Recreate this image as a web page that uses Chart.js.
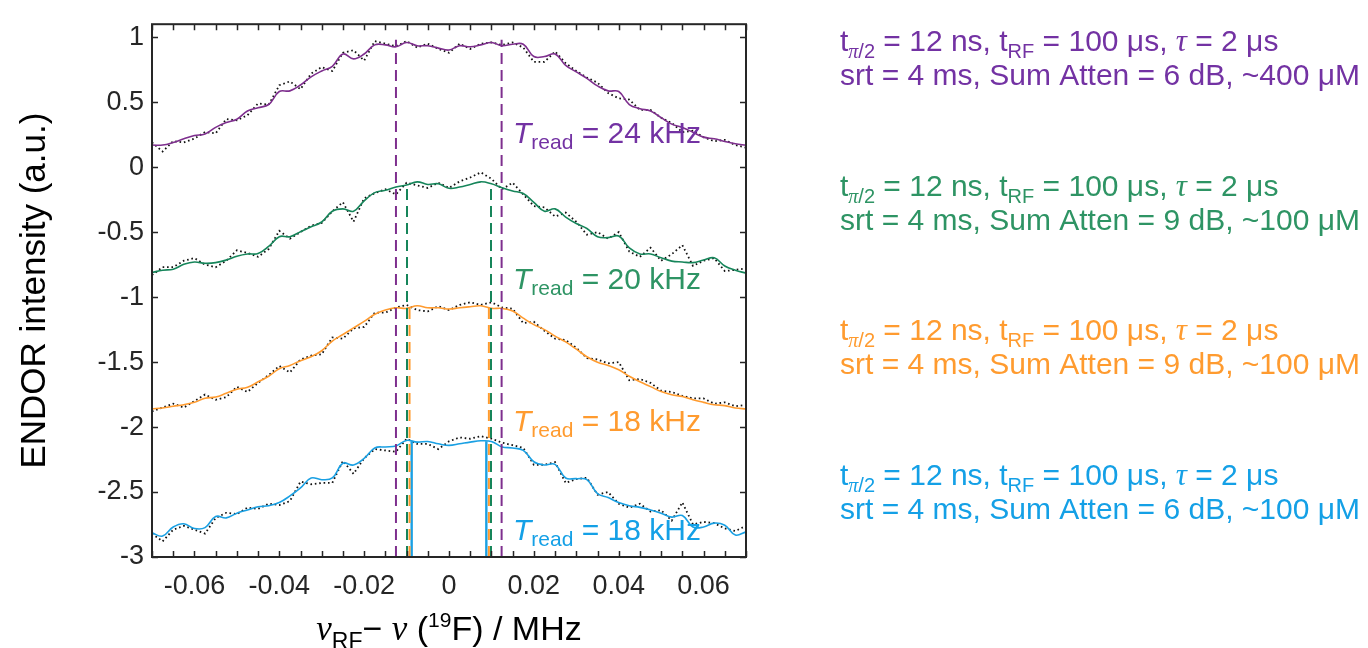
<!DOCTYPE html>
<html>
<head>
<meta charset="utf-8">
<script src="https://cdn.jsdelivr.net/npm/chart.js@4.4.1/dist/chart.umd.min.js"></script>
<style>
  html, body { margin: 0; padding: 0; background: #fff; }
  #wrap { position: relative; width: 1368px; height: 648px; }
</style>
</head>
<body>
<div id="wrap"><canvas id="endor-chart" width="1368" height="648"></canvas></div>
<script>
// x grid: nu_RF - nu(19F) in MHz
const freqOffset = [
  -0.07, -0.0675, -0.065, -0.0625, -0.06, -0.0575, -0.055, -0.0525, -0.05, -0.0475,
  -0.045, -0.0425, -0.04, -0.0375, -0.035, -0.0325, -0.03, -0.0275, -0.025, -0.0225,
  -0.02, -0.0175, -0.015, -0.0125, -0.01, -0.0075, -0.005, -0.0025, 0, 0.0025,
  0.005, 0.0075, 0.01, 0.0125, 0.015, 0.0175, 0.02, 0.0225, 0.025, 0.0275,
  0.03, 0.0325, 0.035, 0.0375, 0.04, 0.0425, 0.045, 0.0475, 0.05, 0.0525,
  0.055, 0.0575, 0.06, 0.0625, 0.065, 0.0675, 0.07
];

// smoothed traces (coloured lines)
const fitPurple = [
  0.17, 0.17, 0.19, 0.218, 0.243, 0.256, 0.306, 0.343, 0.369, 0.432,
  0.457, 0.482, 0.582, 0.587, 0.632, 0.695, 0.74, 0.776, 0.871, 0.833,
  0.871, 0.941, 0.941, 0.926, 0.959, 0.934, 0.934, 0.916, 0.901, 0.934,
  0.926, 0.941, 0.959, 0.934, 0.946, 0.946, 0.851, 0.851, 0.871, 0.783,
  0.733, 0.683, 0.625, 0.587, 0.582, 0.482, 0.45, 0.432, 0.381, 0.331,
  0.306, 0.268, 0.231, 0.218, 0.198, 0.18, 0.168
];
const fitGreen = [
  -0.811, -0.793, -0.786, -0.748, -0.73, -0.74, -0.735, -0.715, -0.685, -0.668,
  -0.665, -0.61, -0.535, -0.535, -0.497, -0.459, -0.422, -0.339, -0.321, -0.339,
  -0.259, -0.196, -0.178, -0.153, -0.138, -0.113, -0.133, -0.128, -0.163, -0.153,
  -0.133, -0.113, -0.128, -0.158, -0.183, -0.203, -0.271, -0.339, -0.321, -0.384,
  -0.434, -0.472, -0.535, -0.542, -0.53, -0.622, -0.668, -0.668, -0.698, -0.723,
  -0.73, -0.735, -0.715, -0.698, -0.761, -0.793, -0.816
];
const fitOrange = [
  -1.86, -1.853, -1.84, -1.828, -1.81, -1.778, -1.769, -1.74, -1.709, -1.694,
  -1.652, -1.609, -1.551, -1.526, -1.489, -1.459, -1.413, -1.338, -1.288, -1.237,
  -1.187, -1.132, -1.099, -1.082, -1.087, -1.067, -1.082, -1.082, -1.092, -1.082,
  -1.074, -1.067, -1.087, -1.087, -1.107, -1.162, -1.212, -1.25, -1.3, -1.345,
  -1.401, -1.459, -1.501, -1.526, -1.559, -1.609, -1.652, -1.689, -1.727, -1.752,
  -1.765, -1.79, -1.81, -1.828, -1.835, -1.853, -1.86
];
const fitBlue = [
  -2.814, -2.839, -2.769, -2.744, -2.781, -2.774, -2.688, -2.699, -2.663, -2.638,
  -2.613, -2.606, -2.581, -2.53, -2.468, -2.392, -2.405, -2.392, -2.279, -2.292,
  -2.242, -2.161, -2.153, -2.146, -2.103, -2.116, -2.111, -2.129, -2.141, -2.129,
  -2.116, -2.106, -2.111, -2.153, -2.161, -2.179, -2.267, -2.292, -2.287, -2.392,
  -2.397, -2.405, -2.513, -2.543, -2.581, -2.606, -2.618, -2.638, -2.663, -2.693,
  -2.681, -2.769, -2.769, -2.739, -2.756, -2.831, -2.806
];

// raw traces (black dotted)
const rawPurple = [
  0.19, 0.12, 0.20, 0.19, 0.22, 0.27, 0.26, 0.37, 0.36, 0.40,
  0.49, 0.48, 0.63, 0.66, 0.60, 0.72, 0.77, 0.74, 0.88, 0.90,
  0.82, 0.97, 0.95, 0.93, 0.97, 0.92, 0.95, 0.91, 0.88, 0.95,
  0.91, 0.95, 0.96, 0.94, 0.96, 0.92, 0.81, 0.81, 0.89, 0.80,
  0.74, 0.69, 0.65, 0.57, 0.53, 0.52, 0.44, 0.44, 0.38, 0.34,
  0.27, 0.28, 0.23, 0.20, 0.21, 0.17, 0.15
];
const rawGreen = [
  -0.83, -0.77, -0.77, -0.72, -0.70, -0.75, -0.77, -0.72, -0.64, -0.66,
  -0.69, -0.63, -0.49, -0.55, -0.50, -0.45, -0.43, -0.34, -0.27, -0.42,
  -0.24, -0.20, -0.17, -0.21, -0.12, -0.14, -0.16, -0.12, -0.16, -0.11,
  -0.08, -0.04, -0.09, -0.17, -0.12, -0.21, -0.30, -0.31, -0.38, -0.35,
  -0.42, -0.52, -0.50, -0.55, -0.50, -0.65, -0.69, -0.62, -0.72, -0.67,
  -0.60, -0.76, -0.72, -0.70, -0.80, -0.79, -0.78
];
const rawOrange = [
  -1.88, -1.85, -1.82, -1.85, -1.80, -1.75, -1.79, -1.77, -1.69, -1.73,
  -1.66, -1.60, -1.53, -1.58, -1.48, -1.45, -1.44, -1.31, -1.32, -1.24,
  -1.23, -1.12, -1.12, -1.08, -1.06, -1.10, -1.11, -1.07, -1.10, -1.06,
  -1.04, -1.06, -1.04, -1.08, -1.09, -1.20, -1.19, -1.26, -1.32, -1.33,
  -1.39, -1.47, -1.48, -1.51, -1.50, -1.64, -1.63, -1.66, -1.72, -1.73,
  -1.76, -1.78, -1.78, -1.82, -1.81, -1.84, -1.83
];
const rawBlue = [
  -2.82, -2.88, -2.79, -2.76, -2.79, -2.82, -2.70, -2.66, -2.67, -2.62,
  -2.63, -2.59, -2.60, -2.57, -2.42, -2.44, -2.43, -2.43, -2.26, -2.36,
  -2.24, -2.17, -2.18, -2.19, -2.09, -2.13, -2.13, -2.17, -2.11, -2.08,
  -2.09, -2.07, -2.09, -2.12, -2.14, -2.16, -2.29, -2.29, -2.27, -2.43,
  -2.40, -2.39, -2.52, -2.50, -2.59, -2.62, -2.59, -2.65, -2.64, -2.72,
  -2.58, -2.75, -2.73, -2.74, -2.78, -2.80, -2.76
];

// T_read markers: x positions and the top end of each vertical line
const markerPurple = [-0.0125, 0.0124];
const markerGreen = [-0.0099, 0.0099];
const markerOrange = [-0.0093, 0.0094];
const markerBlue = [-0.0088, 0.0088];
const markerTops = { purple: 0.98, green: -0.13, orange: -1.08, blue: -2.11 };

const xTickLabels = [-0.06, -0.04, -0.02, 0, 0.02, 0.04, 0.06];

const COLORS = {
  purple: "#7E2F8E",
  green: "#16855A",
  orange: "#FF9B2F",
  blue: "#1AA0E3",
};
const TEXT_COLORS = {
  purple: "#7332A3",
  green: "#2E9464",
  orange: "#FF9B2F",
  blue: "#14A0E6",
};

const SANS = "'Liberation Sans', Arial, Helvetica, sans-serif";
const SERIF = "'Liberation Serif', 'Times New Roman', serif";

const toPoints = (ys) => ys.map((y, i) => ({ x: freqOffset[i], y: y }));

const fitSet = (ys, color) => ({
  data: toPoints(ys),
  borderColor: color,
  borderWidth: 1.6,
  pointRadius: 0,
  tension: 0.4,
  order: 1,
});
const rawSet = (ys) => ({
  data: toPoints(ys),
  borderColor: "#111",
  borderWidth: 1.8,
  borderDash: [1.6, 2.8],
  pointRadius: 0,
  tension: 0,
  order: 2,
});
const markerSets = (xsPair, top, color, dashed) =>
  xsPair.map((xv) => ({
    data: [{ x: xv, y: -3 }, { x: xv, y: top }],
    borderColor: color,
    borderWidth: dashed ? 2 : 2.4,
    borderDash: dashed ? [11, 6] : [],
    pointRadius: 0,
    order: 0,
  }));

const datasets = [
  rawSet(rawPurple), fitSet(fitPurple, COLORS.purple),
  rawSet(rawGreen), fitSet(fitGreen, COLORS.green),
  rawSet(rawOrange), fitSet(fitOrange, COLORS.orange),
  rawSet(rawBlue), fitSet(fitBlue, COLORS.blue),
  ...markerSets(markerPurple, markerTops.purple, COLORS.purple, true),
  ...markerSets(markerGreen, markerTops.green, COLORS.green, true),
  ...markerSets(markerOrange, markerTops.orange, COLORS.orange, true),
  ...markerSets(markerBlue, markerTops.blue, COLORS.blue, false),
];

// draws a run of text pieces (for sub/superscripts)
function drawRich(ctx, x, y, pieces, align) {
  let total = 0;
  pieces.forEach((p) => { ctx.font = p.font; total += ctx.measureText(p.t).width; });
  let cx = align === "center" ? x - total / 2 : x;
  pieces.forEach((p) => {
    ctx.font = p.font;
    ctx.fillText(p.t, cx, y + (p.dy || 0));
    cx += ctx.measureText(p.t).width;
  });
}

const annotations = [
  { text: " = 24 kHz", color: TEXT_COLORS.purple, y: 143 },
  { text: " = 20 kHz", color: TEXT_COLORS.green, y: 289 },
  { text: " = 18 kHz", color: TEXT_COLORS.orange, y: 431 },
  { text: " = 18 kHz", color: TEXT_COLORS.blue, y: 540 },
];
const paramBlocks = [
  { color: TEXT_COLORS.purple, y: 51, line2: "srt = 4 ms, Sum Atten = 6 dB, ~400 μM" },
  { color: TEXT_COLORS.green, y: 196, line2: "srt = 4 ms, Sum Atten = 9 dB, ~100 μM" },
  { color: TEXT_COLORS.orange, y: 340, line2: "srt = 4 ms, Sum Atten = 9 dB, ~100 μM" },
  { color: TEXT_COLORS.blue, y: 485, line2: "srt = 4 ms, Sum Atten = 6 dB, ~100 μM" },
];

const framePlugin = {
  id: "frame",
  afterDraw(chart) {
    const { ctx, chartArea, scales } = chart;
    const { left, right, top, bottom } = chartArea;
    ctx.save();
    ctx.strokeStyle = "#262626";
    ctx.lineWidth = 1.5;
    ctx.beginPath();
    scales.x.ticks.forEach((t) => {
      const px = Math.round(scales.x.getPixelForValue(t.value)) + 0.5;
      ctx.moveTo(px, bottom); ctx.lineTo(px, bottom - 6);
      ctx.moveTo(px, top); ctx.lineTo(px, top + 6);
    });
    scales.y.ticks.forEach((t) => {
      const py = Math.round(scales.y.getPixelForValue(t.value)) + 0.5;
      ctx.moveTo(left, py); ctx.lineTo(left + 6, py);
      ctx.moveTo(right, py); ctx.lineTo(right - 6, py);
    });
    ctx.stroke();
    ctx.lineWidth = 2;
    ctx.strokeRect(left, top, right - left, bottom - top);

    // axis titles
    ctx.fillStyle = "#000";
    ctx.textBaseline = "alphabetic";
    const xc = (left + right) / 2;
    drawRich(ctx, xc, 640, [
      { t: "ν", font: "italic 35px " + SERIF },
      { t: "RF", font: "23px " + SANS, dy: 9 },
      { t: "− ", font: "34px " + SANS },
      { t: "ν", font: "italic 35px " + SERIF },
      { t: " (", font: "34px " + SANS },
      { t: "19", font: "21px " + SANS, dy: -13 },
      { t: "F) / MHz", font: "34px " + SANS },
    ], "center");

    ctx.save();
    ctx.translate(45, (top + bottom) / 2);
    ctx.rotate(-Math.PI / 2);
    ctx.font = "35px " + SANS;
    ctx.textAlign = "center";
    ctx.fillText("ENDOR intensity (a.u.)", 0, 0);
    ctx.restore();

    // T_read labels
    annotations.forEach((a) => {
      ctx.fillStyle = a.color;
      drawRich(ctx, 513, a.y, [
        { t: "T", font: "italic 30px " + SANS },
        { t: "read", font: "21px " + SANS, dy: 6 },
        { t: a.text, font: "30px " + SANS },
      ]);
    });

    // measurement parameters on the right
    paramBlocks.forEach((b) => {
      ctx.fillStyle = b.color;
      drawRich(ctx, 840, b.y, [
        { t: "t", font: "30px " + SANS },
        { t: "π", font: "italic 20px " + SERIF, dy: 7 },
        { t: "/2", font: "20px " + SANS, dy: 7 },
        { t: " = 12 ns, t", font: "30px " + SANS },
        { t: "RF", font: "20px " + SANS, dy: 7 },
        { t: " = 100 μs, ", font: "30px " + SANS },
        { t: "τ", font: "italic 31px " + SERIF },
        { t: " = 2 μs", font: "30px " + SANS },
      ]);
      ctx.font = "30px " + SANS;
      ctx.fillText(b.line2, 840, b.y + 34);
    });
    ctx.restore();
  },
};

Chart.defaults.font.family = SANS;
Chart.defaults.color = "#262626";

new Chart(document.getElementById("endor-chart").getContext("2d"), {
  type: "line",
  data: { datasets },
  options: {
    responsive: false,
    animation: false,
    layout: { padding: { left: 0, top: 13, right: 622, bottom: 0 } },
    plugins: { legend: { display: false }, tooltip: { enabled: false } },
    scales: {
      x: {
        type: "linear",
        min: -0.07,
        max: 0.07,
        grid: { display: false, drawTicks: false },
        border: { display: false },
        afterFit: (scale) => { scale.height = 91; },
        ticks: {
          stepSize: 0.005,
          autoSkip: false,
          maxRotation: 0,
          padding: 13,
          font: { size: 27 },
          callback: (v) => {
            const hit = xTickLabels.find((l) => Math.abs(l - v) < 1e-7);
            if (hit === undefined) return "";
            return hit === 0 ? "0" : hit.toFixed(2);
          },
        },
      },
      y: {
        min: -3,
        max: 1.1,
        grid: { display: false, drawTicks: false },
        border: { display: false },
        afterFit: (scale) => { scale.width = 152; },
        ticks: {
          stepSize: 0.5,
          includeBounds: false,
          padding: 8,
          font: { size: 27 },
          callback: (v) => String(Number(v.toFixed(1))),
        },
      },
    },
  },
  plugins: [framePlugin],
});
</script>
</body>
</html>
